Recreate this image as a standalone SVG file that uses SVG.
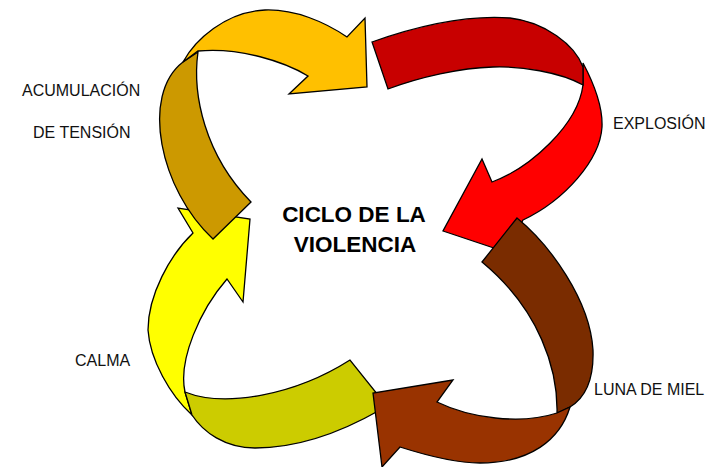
<svg xmlns="http://www.w3.org/2000/svg" width="722" height="467" viewBox="0 0 722 467">
<style>
.seg{stroke:#000;stroke-width:1.3;stroke-linejoin:miter}
.lbl{font-family:"Liberation Sans",Arial,sans-serif;font-size:16px;fill:#111}
.ttl{font-family:"Liberation Sans",Arial,sans-serif;font-size:22.5px;font-weight:bold;fill:#000;text-anchor:middle}
</style>
<rect width="722" height="467" fill="#fff"/>
<g id="connectors">
<g id="arrow-calma">
<path class="seg" fill="#FFFF00" d="M193,233 L178,208 L250,219 L243,302 L227,279 C200,310 178,360 185,392 L192,415 C170,395 150,360 148,330 C148,295 170,255 193,233 Z"/>
<path class="seg" fill="#CCCC00" d="M185,392 C225,408 295,395 350,360 L378,395 L380,410 C345,430 300,448 255,448 C225,448 203,432 192,415 Z"/>
</g>
<g id="arrow-explosion">
<path class="seg" fill="#FF0000" d="M583,63 C592,80 603,105 602,127 C600,160 565,200 523,220 L515,235 L503,251 L443,231 L482,159 L492,182 C530,168 578,125 583,85 Z"/>
<path class="seg" fill="#C80000" d="M372,42 C420,25 470,15 510,18 C545,22 575,45 583,67 L583,85 C560,72 520,66 493,67 C460,68 420,77 388,89 Z"/>
</g>
<g id="arrow-acumulacion">
<path class="seg" fill="#CC9900" d="M251,202 L213,239 C160,190 140,95 183,62 L198,52 C192,95 205,155 251,202 Z"/>
<path class="seg" fill="#FFC000" d="M183,62 C195,40 225,12 265,10 C295,9 325,22 347,37 L365,18 L367,87 L289,94 L308,76 C285,62 240,47 198,51 Z"/>
</g>
<g id="arrow-luna">
<path class="seg" fill="#7A2C00" d="M482,262 L517,218 C550,245 590,300 593,350 C594,380 585,398 570,407 L557,413 C558,370 540,310 482,262 Z"/>
<path class="seg" fill="#993300" d="M570,407 C560,440 530,463 480,463 C455,463 425,455 400,447 L382,467 L373,393 L453,380 L437,402 C470,418 520,425 557,413 Z"/>
</g>
</g>
<g id="node-acumulacion"><text class="lbl" x="22" y="96">ACUMULACIÓN</text><text class="lbl" x="33" y="138">DE TENSIÓN</text></g>
<g id="node-explosion"><text class="lbl" x="613" y="129">EXPLOSIÓN</text></g>
<g id="node-luna"><text class="lbl" x="594" y="395">LUNA DE MIEL</text></g>
<g id="node-calma"><text class="lbl" x="75" y="366">CALMA</text></g>
<g id="node-title"><text class="ttl" x="354" y="222">CICLO DE LA</text><text class="ttl" x="355" y="252">VIOLENCIA</text></g>
</svg>
